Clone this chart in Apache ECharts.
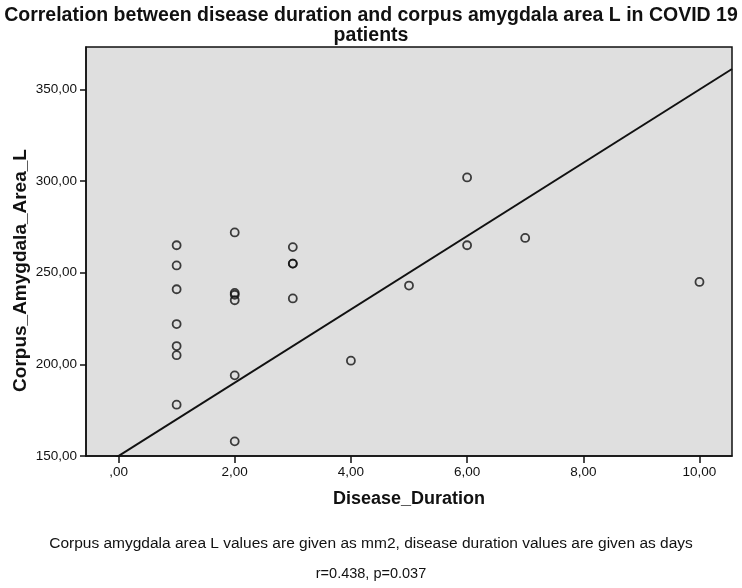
<!DOCTYPE html>
<html>
<head>
<meta charset="utf-8">
<script src="https://cdn.jsdelivr.net/npm/echarts@6/dist/echarts.min.js"></script>
<style>
html,body{margin:0;padding:0;background:#fff;}
#chart{width:742px;height:588px;}
</style>
</head>
<body>
<div id="chart"></div>
<script>
// ---- data ----
const diseaseDuration = [1,1,1,1,1,1,1, 2,2,2,2,2,2, 3,3,3,3, 4, 5, 6,6, 7, 10];
const amygdalaAreaL   = [265,254,241,222,210,205,178, 272,239,238,235,194,158, 264,255,255,236, 202, 243, 302,265, 269, 245];
const xTicks = [0,2,4,6,8,10];
const yTicks = [150,200,250,300,350];
const fitIntercept = 150;   // reference line as drawn in the picture
const fitSlope = 20;
const titleText = 'Correlation between disease duration and corpus amygdala area L in COVID 19\npatients';
const xName = 'Disease_Duration';
const yName = 'Corpus_Amygdala_Area_L';
const note1 = 'Corpus amygdala area L values are given as mm2, disease duration values are given as days';
const note2 = 'r=0.438, p=0.037';

const xMin = -0.56, xMax = 10.56, yMin = 150, yMax = 373.2;

const points = diseaseDuration.map((x,i)=>[x, amygdalaAreaL[i]]);
const fitLine = [xMin, xMax].map(x=>[x, fitIntercept + fitSlope*x]);

function fmt(v){
  let s = Number(v).toFixed(2).replace('.', ',');
  if (s.startsWith('0,')) s = s.slice(1);
  return s;
}

const FONT = 'Liberation Sans, Arial, sans-serif';
const chart = echarts.init(document.getElementById('chart'), null, {renderer:'canvas'});
chart.setOption({
  backgroundColor:'#ffffff',
  animation:false,
  title:[
    {text:titleText, left:'center', top:1,
     textStyle:{fontFamily:FONT, fontWeight:'bold', fontSize:19.5, color:'#111', lineHeight:20}},
    {text:note1, left:'center', top:531,
     textStyle:{fontFamily:FONT, fontWeight:'normal', fontSize:15.5, color:'#111'}},
    {text:note2, left:'center', top:561,
     textStyle:{fontFamily:FONT, fontWeight:'normal', fontSize:14.5, color:'#111'}}
  ],
  grid:{left:86, right:10, top:47, bottom:132, show:true, outerBoundsMode:'none', containLabel:false,
        backgroundColor:'#dfdfdf', borderColor:'#111', borderWidth:1.5},
  xAxis:{type:'value', min:xMin, max:xMax,
    name:xName, nameLocation:'middle', nameGap:34, nameMoveOverlap:false,
    nameTextStyle:{fontFamily:FONT, fontWeight:'bold', fontSize:18, color:'#111'},
    splitLine:{show:false},
    axisLine:{show:true, onZero:false, lineStyle:{color:'#111', width:1.5}},
    axisTick:{show:true, customValues:xTicks, length:7, lineStyle:{color:'#111', width:1.5}},
    axisLabel:{customValues:xTicks, formatter:fmt, margin:9,
      fontFamily:FONT, fontSize:13.5, color:'#111'}
  },
  yAxis:{type:'value', min:yMin, max:yMax,
    name:yName, nameLocation:'middle', nameGap:56, nameRotate:90, nameMoveOverlap:false,
    nameTextStyle:{fontFamily:FONT, fontWeight:'bold', fontSize:19, color:'#111', padding:[0,38,0,0]},
    splitLine:{show:false},
    axisLine:{show:true, onZero:false, lineStyle:{color:'#111', width:1.5}},
    axisTick:{show:true, customValues:yTicks, length:6, lineStyle:{color:'#111', width:1.5}},
    axisLabel:{customValues:yTicks, formatter:fmt, margin:9,
      fontFamily:FONT, fontSize:13.5, color:'#111'}
  },
  series:[
    {type:'line', data:fitLine, showSymbol:false, symbol:'none', clip:true,
     lineStyle:{color:'#111', width:2}, silent:true, z:2},
    {type:'scatter', data:points, symbol:'circle', symbolSize:8,
     itemStyle:{color:'rgba(0,0,0,0)', borderColor:'#111', borderWidth:1.8}, z:3}
  ]
});
</script>
</body>
</html>
